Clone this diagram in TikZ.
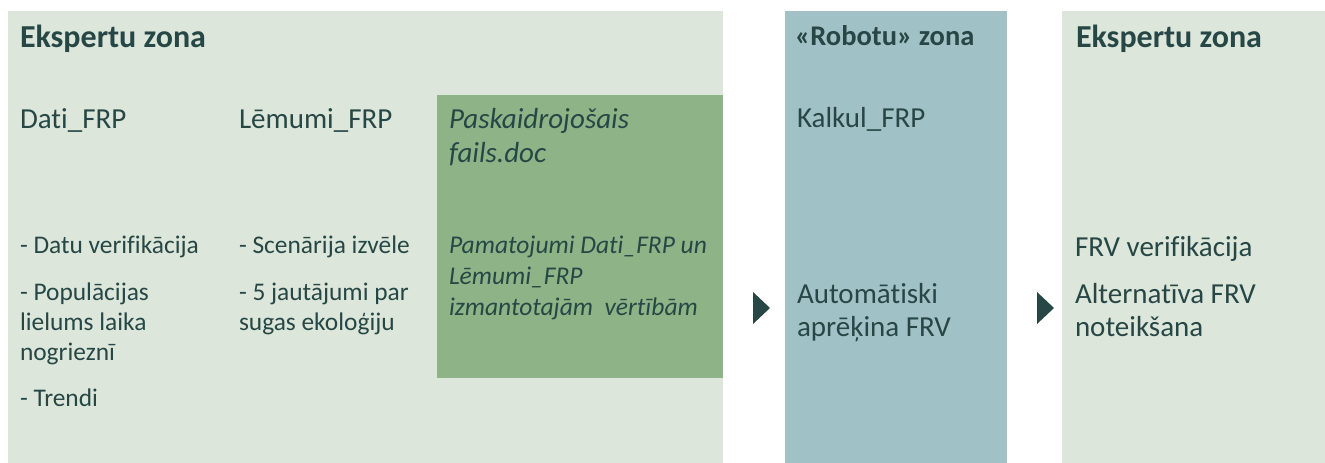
\documentclass[tikz,border=0pt]{standalone}
\usepackage{fontspec}
\setmainfont{Carlito}[Ligatures=NoCommon]
\definecolor{ink}{HTML}{264745}
\definecolor{paleg}{HTML}{DCE6DA}
\definecolor{boxg}{HTML}{8EB386}
\definecolor{robo}{HTML}{A0C2C6}
\definecolor{arrowc}{HTML}{264745}
\newcommand\mylines[1]{\begin{tabular}[t]{@{}l@{}}#1\end{tabular}}
\begin{document}
\begin{tikzpicture}[x=1pt,y=-1pt,
  txt/.style={anchor=base west,inner sep=0pt,outer sep=0pt,text=ink},
  ttl/.style={txt,font=\fontsize{32}{38}\selectfont\bfseries},
  ttlr/.style={txt,font=\fontsize{28.5}{34}\selectfont\bfseries},
  hdr/.style={txt,font=\fontsize{29}{34}\selectfont},
  itm/.style={txt,font=\fontsize{25.4}{30}\selectfont},
  big/.style={txt,font=\fontsize{29}{33.5}\selectfont},
  ita/.style={txt,font=\fontsize{29}{34}\selectfont\itshape},
  itb/.style={txt,font=\fontsize{25.5}{31}\selectfont\itshape},
  tri/.style={fill=arrowc}]
\useasboundingbox (0,0) rectangle (1325,463);
\fill[white] (0,0) rectangle (1325,463);
% panels
\fill[paleg] (8,11) rectangle (723,463);
\fill[boxg] (437,95) rectangle (723,378);
\fill[robo] (785,11) rectangle (1007,463);
\fill[paleg] (1062,11) rectangle (1325,463);
% arrows
\fill[tri] (753,292) -- (770,308) -- (753,324) -- cycle;
\fill[tri] (1037,292) -- (1054,308) -- (1037,324) -- cycle;
% left zone
\node[ttl] (t1) at (20,47) {Ekspertu zona};
\node[hdr] (dati) at (20,128) {Dati\_FRP};
\node[hdr] (lem) at (239,128) {Lēmumi\_FRP};
\node[itm] (d1) at (20,253) {- Datu verifikācija};
\node[itm] (d2) at (20,300) {\mylines{- Populācijas\\lielums laika\\nogrieznī}};
\node[itm] (d3) at (20,406) {- Trendi};
\node[itm] (l1) at (239,253) {- Scenārija izvēle};
\node[itm] (l2) at (239,300) {\mylines{- 5 jautājumi par\\sugas ekoloģiju}};
\node[ita] (p1) at (449,128) {\mylines{Paskaidrojošais\\fails.doc}};
\node[itb] (p2) at (449,253) {\mylines{Pamatojumi Dati\_FRP un\\Lēmumi\_FRP\\izmantotajām\ \ vērtībām}};
% robot zone
\node[ttlr] (t2) at (795,45) {«Robotu» zona};
\node[hdr] (kal) at (797,127) {Kalkul\_FRP};
\node[big] (auto) at (797,303) {\mylines{Automātiski\\aprēķina FRV}};
% right zone
\node[ttl] (t3) at (1076,47) {Ekspertu zona};
\node[big] (f1) at (1075,256) {FRV verifikācija};
\node[big] (f2) at (1075,303) {\mylines{Alternatīva FRV\\noteikšana}};
\end{tikzpicture}
\end{document}
